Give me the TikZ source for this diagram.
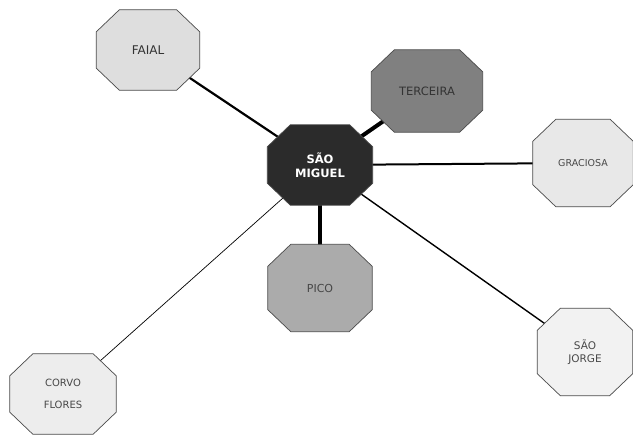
\documentclass[tikz,border=0pt]{standalone}
\usepackage{fontspec}
\setmainfont{DejaVu Sans}
\definecolor{edgegray}{HTML}{4A4A4A}
\definecolor{txtgray}{HTML}{474747}
\pgfdeclarelayer{canvas}
\pgfdeclarelayer{lines}
\pgfdeclarelayer{plates}
\pgfsetlayers{canvas,lines,plates,main}
% octagonal plate drawn around a named (invisible) box node
\newcommand\octplate[2]{%
  \begin{pgfonlayer}{plates}
    \filldraw[plate, fill=#2]
      ([xshift=23pt]#1.north west) -- ([xshift=-23pt]#1.north east)
      -- ([yshift=-22pt]#1.north east) -- ([yshift=22pt]#1.south east)
      -- ([xshift=-23pt]#1.south east) -- ([xshift=23pt]#1.south west)
      -- ([yshift=22pt]#1.south west) -- ([yshift=-22pt]#1.north west)
      -- cycle;
  \end{pgfonlayer}}
\begin{document}
\begin{tikzpicture}[x=1pt,y=-1pt,
  island/.style={rectangle, inner sep=0pt, align=center, text=txtgray},
  plate/.style={draw=edgegray, line width=0.7pt},
  link/.style={draw=black}]
\begin{pgfonlayer}{canvas}
  \fill[white] (0,0) rectangle (633,439);
\end{pgfonlayer}
\useasboundingbox (0,0) rectangle (633,439);

% islands
\node[island, minimum width=103pt, minimum height=80pt, text=black!80,
      font=\fontsize{12}{14}\selectfont] (faial) at (148,50) {FAIAL};
\node[island, minimum width=105pt, minimum height=80pt,
      text=white, font=\bfseries\fontsize{11.5}{14}\selectfont] (sm) at (320,165) {SÃO\\MIGUEL};
\node[island, minimum width=111pt, minimum height=82pt, text=black!80,
      font=\fontsize{11.5}{14}\selectfont] (terceira) at (427,91) {TERCEIRA};
\node[island, minimum width=100pt, minimum height=87pt,
      font=\fontsize{9.5}{12}\selectfont] (graciosa) at (583,163) {GRACIOSA};
\node[island, minimum width=104pt, minimum height=87pt,
      font=\fontsize{11}{13}\selectfont] (pico) at (320,288) {PICO};
\node[island, minimum width=95pt, minimum height=87pt,
      font=\fontsize{10.5}{13}\selectfont] (sjorge) at (585,352) {SÃO\\JORGE};
\node[island, minimum width=106pt, minimum height=80pt,
      font=\fontsize{10}{22}\selectfont] (corvo) at (63,394) {CORVO\\FLORES};

\octplate{faial}{black!13}
\octplate{sm}{black!83}
\octplate{terceira}{black!50}
\octplate{graciosa}{black!9}
\octplate{pico}{black!33}
\octplate{sjorge}{black!5}
\octplate{corvo}{black!7}

% connections to the hub, running centre to centre under the plates
\begin{pgfonlayer}{lines}
\draw[link, line width=2.2pt] (sm.center) -- (faial.center);
\draw[link, line width=4pt] (sm.center) -- (terceira.center);
\draw[link, line width=2pt] (sm.center) -- (graciosa.center);
\draw[link, line width=3.5pt] (sm.center) -- (pico.center);
\draw[link, line width=1.4pt] (sm.center) -- (sjorge.center);
\draw[link, line width=0.7pt] (sm.center) -- (corvo.center);
\end{pgfonlayer}
\end{tikzpicture}
\end{document}
